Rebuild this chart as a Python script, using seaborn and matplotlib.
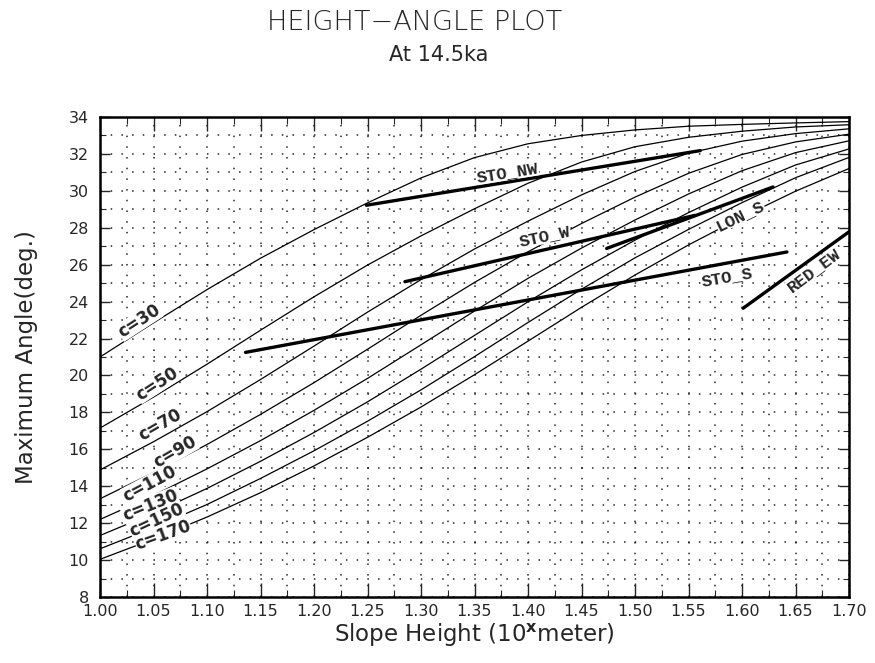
import numpy as np
import pandas as pd
import matplotlib
matplotlib.use("Agg")
import matplotlib.pyplot as plt
from matplotlib.ticker import MultipleLocator, FormatStrFormatter
import seaborn as sns

# ---- data ----
slope_height = [1.00, 1.05, 1.10, 1.15, 1.20, 1.25, 1.30, 1.35, 1.40, 1.45, 1.50, 1.55, 1.60, 1.65, 1.70]
c_30 = [21.0, 22.85, 24.65, 26.35, 27.9, 29.35, 30.7, 31.8, 32.55, 33.0, 33.3, 33.5, 33.6, 33.68, 33.75]
c_50 = [17.15, 18.83, 20.61, 22.45, 24.26, 25.98, 27.56, 29.03, 30.41, 31.56, 32.39, 32.90, 33.23, 33.46, 33.58]
c_70 = [14.88, 16.41, 18.04, 19.78, 21.59, 23.43, 25.19, 26.85, 28.36, 29.78, 31.05, 32.04, 32.69, 33.10, 33.36]
c_90 = [13.32, 14.74, 16.26, 17.89, 19.61, 21.42, 23.26, 25.04, 26.70, 28.23, 29.66, 30.95, 31.97, 32.65, 33.07]
c_110 = [12.20, 13.50, 14.94, 16.47, 18.11, 19.84, 21.66, 23.49, 25.26, 26.90, 28.42, 29.83, 31.09, 32.07, 32.71]
c_130 = [11.33, 12.54, 13.88, 15.35, 16.91, 18.57, 20.34, 22.17, 23.99, 25.72, 27.33, 28.82, 30.20, 31.40, 32.27]
c_150 = [10.61, 11.76, 13.01, 14.42, 15.92, 17.52, 19.22, 21.02, 22.87, 24.67, 26.37, 27.91, 29.36, 30.71, 31.81]
c_170 = [10.04, 11.14, 12.33, 13.65, 15.10, 16.65, 18.29, 20.04, 21.86, 23.69, 25.44, 27.07, 28.58, 29.98, 31.21]
curve_names = ["c=30", "c=50", "c=70", "c=90", "c=110", "c=130", "c=150", "c=170"]
curve_values = [c_30, c_50, c_70, c_90, c_110, c_130, c_150, c_170]

site_names = ["STO_NW", "STO_W", "LON_S", "STO_S", "RED_EW"]
site_x = [[1.249, 1.561], [1.285, 1.556], [1.4735, 1.629], [1.136, 1.642], [1.601, 1.700]]
site_y = [[29.22, 32.18], [25.08, 28.67], [26.88, 30.21], [21.25, 26.69], [23.64, 27.78]]

title = "HEIGHT\u2212ANGLE PLOT"
subtitle = "At 14.5ka"
x_label = r"Slope Height (10$^{\mathbf{x}}$meter)"
y_label = "Maximum Angle(deg.)"

# ---- tables ----
curves_df = pd.DataFrame(
    [(name, x, y) for name, vals in zip(curve_names, curve_values) for x, y in zip(slope_height, vals)],
    columns=["curve", "x", "y"],
)
sites_df = pd.DataFrame(
    [(name, x, y) for name, xs, ys in zip(site_names, site_x, site_y) for x, y in zip(xs, ys)],
    columns=["site", "x", "y"],
)

sns.set_style("white")
plt.rcParams["font.family"] = ["DejaVu Sans"]

fig = plt.figure(figsize=(8.75, 6.63), dpi=100)
ax = fig.add_axes([100 / 875, 1 - 597 / 663, 749 / 875, 480 / 663])

sns.lineplot(data=curves_df, x="x", y="y", units="curve", estimator=None,
             color="black", lw=0.9, ax=ax, sort=False, legend=False)
sns.lineplot(data=sites_df, x="x", y="y", units="site", estimator=None,
             color="black", lw=2.4, ax=ax, sort=False, legend=False)

ax.set_xlim(1.00, 1.70)
ax.set_ylim(8, 34)
ax.xaxis.set_major_locator(MultipleLocator(0.05))
ax.xaxis.set_minor_locator(MultipleLocator(0.025))
ax.yaxis.set_major_locator(MultipleLocator(2))
ax.yaxis.set_minor_locator(MultipleLocator(1))
ax.xaxis.set_major_formatter(FormatStrFormatter("%.2f"))
ax.grid(which="both", color="black", linestyle=(0, (1, 6)), lw=1.1, alpha=0.85)
ax.tick_params(axis="x", which="major", direction="in", length=10, width=1.0,
               top=True, bottom=True, labelsize=11.5, pad=5)
ax.tick_params(axis="x", which="minor", direction="in", length=5, width=0.8,
               top=True, bottom=True)
ax.tick_params(axis="y", which="major", direction="in", length=7, width=1.0,
               left=True, right=True, labelsize=11.5, pad=8)
ax.tick_params(axis="y", which="minor", direction="in", length=4, width=0.8,
               left=True, right=True)
for s in ax.spines.values():
    s.set_linewidth(1.8)
    s.set_color("black")

ax.set_xlabel(x_label, fontsize=16.5, labelpad=2)
ax.set_ylabel(y_label, fontsize=16.5, labelpad=22)

fig.text(415 / 875, 1 - 22 / 663, title, ha="center", va="center", fontsize=19.5, fontweight="light")
fig.text(439 / 875, 1 - 55 / 663, subtitle, ha="center", va="center", fontsize=15)

# curve labels
c_label_pos = [(1.0364, 22.93, 33), (1.053, 19.55, 33), (1.056, 17.3, 30), (1.070, 15.85, 30),
               (1.0467, 14.13, 28), (1.0467, 12.96, 22), (1.053, 12.15, 25), (1.059, 11.34, 20)]
for name, (lx, ly, rot) in zip(curve_names, c_label_pos):
    ax.text(lx, ly, name, fontsize=12, fontweight="bold", rotation=rot, ha="center", va="center",
            rotation_mode="anchor",
            bbox=dict(facecolor="white", edgecolor="none", pad=0.1))

site_label_pos = [(1.381, 31.0, 9), (1.416, 27.55, 12), (1.598, 28.67, 26), (1.586, 25.33, 10), (1.667, 25.7, 37)]
for name, (lx, ly, rot) in zip(site_names, site_label_pos):
    ax.text(lx, ly, name, fontsize=12.5, fontweight="bold", family="Liberation Mono",
            rotation=rot, ha="center", va="center", rotation_mode="anchor",
            bbox=dict(facecolor="white", edgecolor="none", pad=0.1))

fig.savefig("out.png", dpi=100)
